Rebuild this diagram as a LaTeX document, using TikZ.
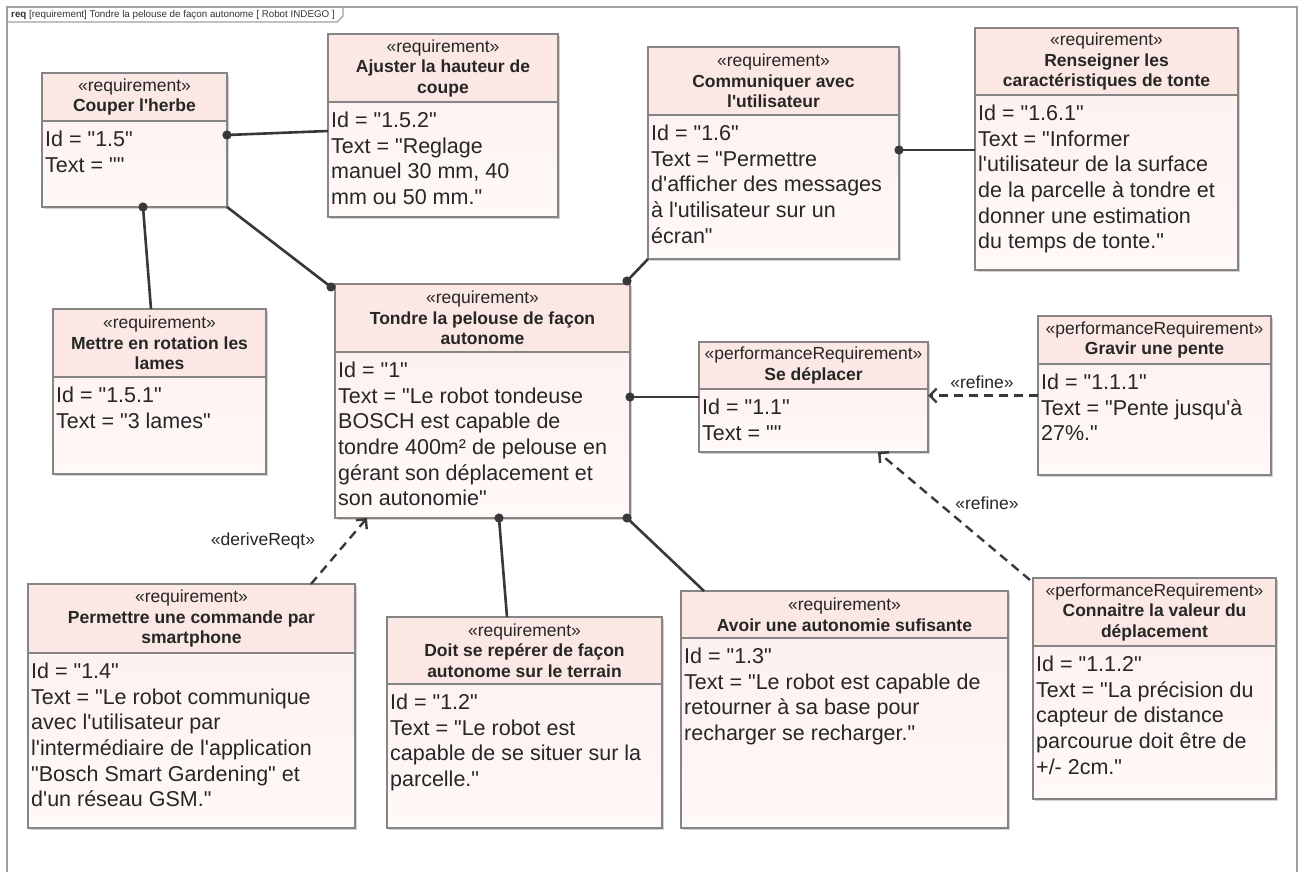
\documentclass[tikz,border=0pt]{standalone}
\usepackage{fontspec}
\newfontfamily\uml{Liberation Sans}
\usetikzlibrary{arrows.meta,shadows,calc}
\definecolor{hdr}{HTML}{FBE7E3}
\definecolor{bodytop}{HTML}{FDEFEC}
\definecolor{bodybot}{HTML}{FFF9F8}
\definecolor{bline}{HTML}{858585}
\definecolor{cline}{HTML}{383838}
\definecolor{frm}{HTML}{A0A0A0}
\tikzset{
  reqbg/.style={inner sep=0, outer sep=0, top color=bodytop, bottom color=bodybot,
    drop shadow={shadow xshift=2pt, shadow yshift=-2pt, opacity=0.35}},
  hdrtext/.style={inner sep=0, align=center, text=black!85, font=\uml\fontsize{17.5}{20.5}\selectfont},
  bodytext/.style={inner sep=0, anchor=north west, align=left, text=black!85, font=\uml\fontsize{21.5}{25.6}\selectfont},
  contain/.style={draw=cline, line width=2.6pt, {Circle[length=9pt]}-, shorten <=-4.5pt},
  dep/.style={draw=cline, line width=2.4pt, dash pattern=on 9pt off 6pt, -{Straight Barb[length=7pt,width=14pt]}},
  lbl/.style={inner sep=0, text=black!85, font=\uml\fontsize{17.5}{20}\selectfont},
}
\newcommand\stR{«requirement»}
\newcommand\stP{«performanceRequirement»}
\newcommand\reqbox[8]{%
  \node[reqbg, anchor=north west, minimum width=#4pt-#2pt, minimum height=#6pt-#3pt] (#1) at (#2,#3) {};
  \fill[hdr] (#2,#3) rectangle (#4,#5);
  \draw[bline, line width=1.5pt] (#2,#5) -- (#4,#5);
  \draw[bline, line width=1.5pt] (#1.north west) rectangle (#1.south east);
  \node[hdrtext] (#1-h) at ($(#2,#3)!0.5!(#4,#5)$) {#7};
  \node[bodytext] (#1-b) at (#2+3,#5+10) {#8};
}
\begin{document}
\begin{tikzpicture}[x=1pt,y=-1pt]
\useasboundingbox (0,0) rectangle (1301,871);
\fill[white] (0,0) rectangle (1301,871);
% frame
\draw[frm, line width=1.4pt] (7,7) rectangle (1297,885);
\draw[frm, line width=1.2pt] (7,22) -- (337,22) -- (343,16) -- (343,7);
\node[inner sep=0, anchor=west, text=black!80, font=\uml\fontsize{9.8}{11}\selectfont] (tab) at (11,15)
  {\textbf{req} [requirement] Tondre la pelouse de façon autonome [ Robot INDEGO ]};

\reqbox{couper}{42}{73}{227}{121}{207}{\stR\\\textbf{Couper l'herbe}}
  {Id = "1.5"\\Text = ""}
\reqbox{ajuster}{328}{34}{558}{102}{217}{\stR\\\textbf{Ajuster la hauteur de}\\\textbf{coupe}}
  {Id = "1.5.2"\\Text = "Reglage\\manuel 30 mm, 40\\mm ou 50 mm."}
\reqbox{comm}{648}{47}{899}{115}{259}{\stR\\\textbf{Communiquer avec}\\\textbf{l'utilisateur}}
  {Id = "1.6"\\Text = "Permettre\\d'afficher des messages\\à l'utilisateur sur un\\écran"}
\reqbox{rens}{975}{28}{1238}{95}{270}{\stR\\\textbf{Renseigner les}\\\textbf{caractéristiques de tonte}}
  {Id = "1.6.1"\\Text = "Informer\\l'utilisateur de la surface\\de la parcelle à tondre et\\donner une estimation\\du temps de tonte."}
\reqbox{mettre}{53}{309}{266}{377}{474}{\stR\\\textbf{Mettre en rotation les}\\\textbf{lames}}
  {Id = "1.5.1"\\Text = "3 lames"}
\reqbox{tondre}{335}{284}{630}{352}{518}{\stR\\\textbf{Tondre la pelouse de façon}\\\textbf{autonome}}
  {Id = "1"\\Text = "Le robot tondeuse\\BOSCH est capable de\\tondre 400m² de pelouse en\\gérant son déplacement et\\son autonomie"}
\reqbox{sedep}{699}{342}{928}{389}{452}{\stP\\\textbf{Se déplacer}}
  {Id = "1.1"\\Text = ""}
\reqbox{gravir}{1038}{316}{1271}{364}{475}{\stP\\\textbf{Gravir une pente}}
  {Id = "1.1.1"\\Text = "Pente jusqu'à\\27\%."}
\reqbox{perm}{28}{584}{355}{653}{828}{\stR\\\textbf{Permettre une commande par}\\\textbf{smartphone}}
  {Id = "1.4"\\Text = "Le robot communique\\avec l'utilisateur par\\l'intermédiaire de l'application\\"Bosch Smart Gardening" et\\d'un réseau GSM."}
\reqbox{doit}{387}{617}{662}{684}{828}{\stR\\\textbf{Doit se repérer de façon}\\\textbf{autonome sur le terrain}}
  {Id = "1.2"\\Text = "Le robot est\\capable de se situer sur la\\parcelle."}
\reqbox{avoir}{681}{591}{1008}{638}{828}{\stR\\\textbf{Avoir une autonomie sufisante}}
  {Id = "1.3"\\Text = "Le robot est capable de\\retourner à sa base pour\\recharger se recharger."}
\reqbox{conn}{1033}{578}{1276}{646}{799}{\stP\\\textbf{Connaitre la valeur du}\\\textbf{déplacement}}
  {Id = "1.1.2"\\Text = "La précision du\\capteur de distance\\parcourue doit être de\\+/- 2cm."}

% containment connectors
\draw[contain] ([yshift=5pt]couper.east) -- ([yshift=-5.5pt]ajuster.west);
\draw[contain] ([xshift=8.5pt]couper.south) -- ([xshift=-8.5pt]mettre.north);
\draw[contain] ([xshift=-4pt,yshift=-3pt]tondre.north west) -- (couper.south east);
\draw[contain] ([xshift=-3pt,yshift=3pt]tondre.north east) -- (comm.south west);
\draw[contain] ([yshift=3pt]comm.east) -- ([yshift=-1pt]rens.west);
\draw[contain] ([yshift=4pt]tondre.east) -- (sedep.west);
\draw[contain] ([xshift=16.5pt]tondre.south) -- ([xshift=-17.5pt]doit.north);
\draw[contain] ([xshift=-3pt]tondre.south east) -- ([xshift=23pt]avoir.north west);

% dependencies
\draw[dep] ([xshift=119.5pt]perm.north) -- ([xshift=-115.5pt]tondre.south);
\node[lbl] (lderive) at (263,541) {«deriveReqt»};
\draw[dep] (gravir.west) -- (sedep.east |- gravir.west);
\node[lbl] (lrefine1) at (982,382) {«refine»};
\draw[dep] ([xshift=-3pt,yshift=-2pt]conn.north west) -- ([xshift=64.5pt]sedep.south);
\node[lbl] (lrefine2) at (987,503) {«refine»};
\end{tikzpicture}
\end{document}
